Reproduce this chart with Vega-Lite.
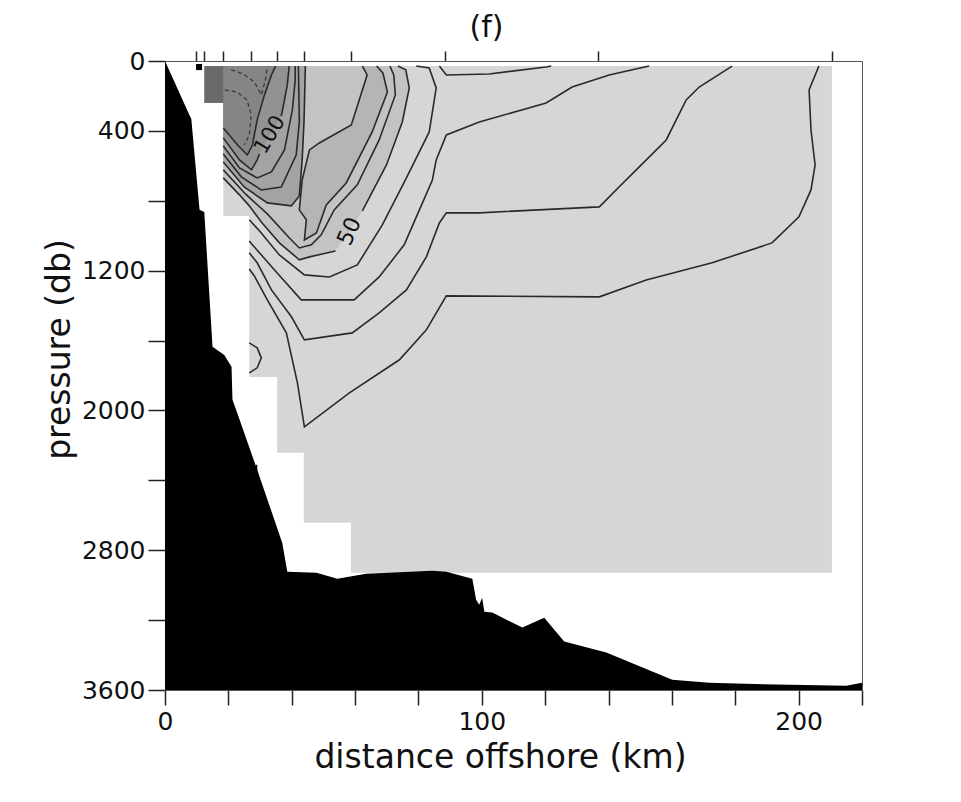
{
  "$schema": "https://vega.github.io/schema/vega-lite/v6.json",
  "autosize": {"type": "none"},
  "padding": {"left": 165, "top": 61, "right": 99, "bottom": 112},
  "width": 697,
  "height": 629,
  "background": "white",
  "config": {
    "view": {"stroke": "#555", "strokeWidth": 1},
    "axis": {"grid": false}
  },
  "title": {"text": "(f)", "fontSize": 30, "font": "DejaVu Sans", "fontWeight": "normal", "color": "#111", "dx": -27, "offset": 6, "anchor": "middle"},
  "datasets": {
    "sea": [
      {"km": 0, "p": 0}, {"km": 7.7, "p": 309}, {"km": 8.3, "p": 330}, {"km": 10.9, "p": 852}, {"km": 12.4, "p": 864},
      {"km": 15.0, "p": 1636}, {"km": 18.7, "p": 1682}, {"km": 21.0, "p": 1750}, {"km": 21.3, "p": 1939}, {"km": 22.8, "p": 2014},
      {"km": 29.1, "p": 2340}, {"km": 37.0, "p": 2757}, {"km": 38.6, "p": 2923}, {"km": 47.8, "p": 2929}, {"km": 54.4, "p": 2963},
      {"km": 63.5, "p": 2934}, {"km": 84.4, "p": 2917}, {"km": 88.8, "p": 2923}, {"km": 97.0, "p": 2963}, {"km": 98.2, "p": 3083},
      {"km": 99.2, "p": 3112}, {"km": 100.1, "p": 3072}, {"km": 100.8, "p": 3152}, {"km": 103.3, "p": 3157}, {"km": 112.8, "p": 3243},
      {"km": 119.7, "p": 3186}, {"km": 126.0, "p": 3323}, {"km": 139.3, "p": 3386}, {"km": 160.1, "p": 3541}, {"km": 171.8, "p": 3558},
      {"km": 192.9, "p": 3569}, {"km": 215.0, "p": 3575}, {"km": 220, "p": 3558}
    ],
    "grid": [
      {"km": 12.4, "p": 240}, {"km": 18.4, "p": 887}, {"km": 26.6, "p": 1808}, {"km": 35.4, "p": 2242},
      {"km": 43.8, "p": 2643}, {"km": 58.7, "p": 2929}, {"km": 210.5, "p": 2929}
    ],
    "shade": [
      {"s": "a", "lvl": 50, "km": 73.5, "p": 29}, {"s": "a", "lvl": 50, "km": 76.0, "p": 50}, {"s": "a", "lvl": 50, "km": 77.1, "p": 154},
      {"s": "a", "lvl": 50, "km": 74.9, "p": 349}, {"s": "a", "lvl": 50, "km": 69.9, "p": 595}, {"s": "a", "lvl": 50, "km": 62.3, "p": 858},
      {"s": "a", "lvl": 50, "km": 58.2, "p": 975}, {"s": "a", "lvl": 50, "km": 53.8, "p": 1087}, {"s": "a", "lvl": 50, "km": 45.6, "p": 1121},
      {"s": "a", "lvl": 50, "km": 42.4, "p": 1138}, {"s": "a", "lvl": 50, "km": 36.1, "p": 1041}, {"s": "a", "lvl": 50, "km": 30.4, "p": 921},
      {"s": "a", "lvl": 50, "km": 26.6, "p": 829}, {"s": "a", "lvl": 50, "km": 23.5, "p": 766}, {"s": "a", "lvl": 50, "km": 18.4, "p": 669},
      {"s": "a", "lvl": 50, "km": 18.4, "p": 29},
      {"s": "b", "lvl": 60, "km": 62.3, "p": 29}, {"s": "b", "lvl": 60, "km": 63.8, "p": 80}, {"s": "b", "lvl": 60, "km": 58.8, "p": 366},
      {"s": "b", "lvl": 60, "km": 48.7, "p": 469}, {"s": "b", "lvl": 60, "km": 45.6, "p": 509}, {"s": "b", "lvl": 60, "km": 43.3, "p": 681},
      {"s": "b", "lvl": 60, "km": 42.4, "p": 852}, {"s": "b", "lvl": 60, "km": 44.6, "p": 909}, {"s": "b", "lvl": 60, "km": 44.0, "p": 1024},
      {"s": "b", "lvl": 60, "km": 47.8, "p": 984}, {"s": "b", "lvl": 60, "km": 50.9, "p": 824}, {"s": "b", "lvl": 60, "km": 57.2, "p": 698},
      {"s": "b", "lvl": 60, "km": 65.4, "p": 406}, {"s": "b", "lvl": 60, "km": 70.2, "p": 177}, {"s": "b", "lvl": 60, "km": 68.8, "p": 70},
      {"s": "b", "lvl": 60, "km": 66.8, "p": 29},
      {"s": "c", "lvl": 80, "km": 18.4, "p": 29}, {"s": "c", "lvl": 80, "km": 44.3, "p": 29}, {"s": "c", "lvl": 80, "km": 43.9, "p": 337},
      {"s": "c", "lvl": 80, "km": 43.3, "p": 566}, {"s": "c", "lvl": 80, "km": 42.4, "p": 772}, {"s": "c", "lvl": 80, "km": 39.9, "p": 829},
      {"s": "c", "lvl": 80, "km": 32.3, "p": 812}, {"s": "c", "lvl": 80, "km": 25.0, "p": 721}, {"s": "c", "lvl": 80, "km": 18.4, "p": 578},
      {"s": "d", "lvl": 100, "km": 18.4, "p": 29}, {"s": "d", "lvl": 100, "km": 39.2, "p": 29}, {"s": "d", "lvl": 100, "km": 38.6, "p": 137},
      {"s": "d", "lvl": 100, "km": 37.4, "p": 252}, {"s": "d", "lvl": 100, "km": 36.7, "p": 315}, {"s": "d", "lvl": 100, "km": 33.2, "p": 423},
      {"s": "d", "lvl": 100, "km": 29.8, "p": 532}, {"s": "d", "lvl": 100, "km": 29.1, "p": 566}, {"s": "d", "lvl": 100, "km": 27.3, "p": 623},
      {"s": "d", "lvl": 100, "km": 23.5, "p": 566}, {"s": "d", "lvl": 100, "km": 18.4, "p": 440},
      {"s": "e", "lvl": 110, "km": 18.4, "p": 29}, {"s": "e", "lvl": 110, "km": 34.9, "p": 29}, {"s": "e", "lvl": 110, "km": 33.6, "p": 80},
      {"s": "e", "lvl": 110, "km": 31.4, "p": 194}, {"s": "e", "lvl": 110, "km": 29.1, "p": 337}, {"s": "e", "lvl": 110, "km": 27.6, "p": 481},
      {"s": "e", "lvl": 110, "km": 26.0, "p": 538}, {"s": "e", "lvl": 110, "km": 22.9, "p": 481}, {"s": "e", "lvl": 110, "km": 18.4, "p": 383},
      {"s": "f", "lvl": 130, "km": 12.4, "p": 29}, {"s": "f", "lvl": 130, "km": 18.4, "p": 29}, {"s": "f", "lvl": 130, "km": 18.4, "p": 240},
      {"s": "f", "lvl": 130, "km": 12.4, "p": 240}
    ],
    "iso": [
      {"c": "A1", "km": 206.4, "p": 29}, {"c": "A1", "km": 203.3, "p": 166}, {"c": "A1", "km": 203.9, "p": 395}, {"c": "A1", "km": 205.2, "p": 595},
      {"c": "A1", "km": 203.9, "p": 738}, {"c": "A1", "km": 200.1, "p": 892}, {"c": "A1", "km": 191.6, "p": 1041}, {"c": "A1", "km": 172.7, "p": 1155},
      {"c": "A1", "km": 151.9, "p": 1253}, {"c": "A1", "km": 137.1, "p": 1350}, {"c": "A1", "km": 88.8, "p": 1344}, {"c": "A1", "km": 82.5, "p": 1539},
      {"c": "A1", "km": 74.0, "p": 1710}, {"c": "A1", "km": 58.2, "p": 1899}, {"c": "A1", "km": 44.0, "p": 2094}, {"c": "A1", "km": 41.8, "p": 1842},
      {"c": "A1", "km": 38.3, "p": 1556}, {"c": "A1", "km": 32.3, "p": 1367}, {"c": "A1", "km": 28.2, "p": 1230}, {"c": "A1", "km": 26.6, "p": 1190},
      {"c": "A2", "km": 179.0, "p": 29}, {"c": "A2", "km": 168.6, "p": 149}, {"c": "A2", "km": 164.5, "p": 223}, {"c": "A2", "km": 158.2, "p": 452},
      {"c": "A2", "km": 149.7, "p": 606}, {"c": "A2", "km": 143.3, "p": 721}, {"c": "A2", "km": 137.1, "p": 835}, {"c": "A2", "km": 99.2, "p": 869},
      {"c": "A2", "km": 88.8, "p": 869}, {"c": "A2", "km": 86.6, "p": 927}, {"c": "A2", "km": 82.5, "p": 1121}, {"c": "A2", "km": 76.2, "p": 1310},
      {"c": "A2", "km": 67.6, "p": 1441}, {"c": "A2", "km": 59.1, "p": 1556}, {"c": "A2", "km": 44.0, "p": 1596}, {"c": "A2", "km": 39.9, "p": 1464},
      {"c": "A2", "km": 33.6, "p": 1310}, {"c": "A2", "km": 29.1, "p": 1155}, {"c": "A2", "km": 26.6, "p": 1098},
      {"c": "A3", "km": 152.8, "p": 29}, {"c": "A3", "km": 140.2, "p": 80}, {"c": "A3", "km": 128.5, "p": 149}, {"c": "A3", "km": 120.3, "p": 240},
      {"c": "A3", "km": 99.2, "p": 349}, {"c": "A3", "km": 88.8, "p": 423}, {"c": "A3", "km": 85.6, "p": 566}, {"c": "A3", "km": 84.4, "p": 681},
      {"c": "A3", "km": 80.3, "p": 852}, {"c": "A3", "km": 75.5, "p": 1052}, {"c": "A3", "km": 67.6, "p": 1236}, {"c": "A3", "km": 59.7, "p": 1367},
      {"c": "A3", "km": 43.0, "p": 1367}, {"c": "A3", "km": 34.5, "p": 1195}, {"c": "A3", "km": 28.2, "p": 1064}, {"c": "A3", "km": 26.6, "p": 1030},
      {"c": "A3b", "km": 86.6, "p": 29}, {"c": "A3b", "km": 88.8, "p": 80}, {"c": "A3b", "km": 102.3, "p": 74}, {"c": "A3b", "km": 120.3, "p": 34}, {"c": "A3b", "km": 121.9, "p": 29},
      {"c": "A4", "km": 79.3, "p": 29}, {"c": "A4", "km": 83.4, "p": 40}, {"c": "A4", "km": 85.6, "p": 154}, {"c": "A4", "km": 83.4, "p": 406},
      {"c": "A4", "km": 76.2, "p": 669}, {"c": "A4", "km": 68.6, "p": 938}, {"c": "A4", "km": 60.7, "p": 1167}, {"c": "A4", "km": 51.9, "p": 1236},
      {"c": "A4", "km": 44.0, "p": 1224}, {"c": "A4", "km": 36.1, "p": 1110}, {"c": "A4", "km": 29.8, "p": 972}, {"c": "A4", "km": 26.6, "p": 909},
      {"c": "A5a", "km": 73.5, "p": 29}, {"c": "A5a", "km": 76.0, "p": 50}, {"c": "A5a", "km": 77.1, "p": 154}, {"c": "A5a", "km": 74.9, "p": 349},
      {"c": "A5a", "km": 69.9, "p": 595}, {"c": "A5a", "km": 62.3, "p": 858},
      {"c": "A5b", "km": 53.8, "p": 1087}, {"c": "A5b", "km": 45.6, "p": 1121}, {"c": "A5b", "km": 42.4, "p": 1138}, {"c": "A5b", "km": 36.1, "p": 1041},
      {"c": "A5b", "km": 30.4, "p": 921}, {"c": "A5b", "km": 26.6, "p": 829}, {"c": "A5b", "km": 23.5, "p": 766}, {"c": "A5b", "km": 18.4, "p": 669},
      {"c": "A6", "km": 62.3, "p": 29}, {"c": "A6", "km": 63.8, "p": 80}, {"c": "A6", "km": 58.8, "p": 366}, {"c": "A6", "km": 48.7, "p": 469},
      {"c": "A6", "km": 45.6, "p": 509}, {"c": "A6", "km": 43.3, "p": 681}, {"c": "A6", "km": 42.4, "p": 852}, {"c": "A6", "km": 44.6, "p": 909},
      {"c": "A6", "km": 44.0, "p": 1024}, {"c": "A6", "km": 47.8, "p": 984}, {"c": "A6", "km": 50.9, "p": 824}, {"c": "A6", "km": 57.2, "p": 698},
      {"c": "A6", "km": 65.4, "p": 406}, {"c": "A6", "km": 70.2, "p": 177}, {"c": "A6", "km": 68.8, "p": 70}, {"c": "A6", "km": 66.8, "p": 29},
      {"c": "U1", "km": 18.4, "p": 383}, {"c": "U1", "km": 22.9, "p": 481}, {"c": "U1", "km": 26.0, "p": 538}, {"c": "U1", "km": 27.6, "p": 481},
      {"c": "U1", "km": 29.1, "p": 337}, {"c": "U1", "km": 31.4, "p": 194}, {"c": "U1", "km": 33.6, "p": 80}, {"c": "U1", "km": 34.9, "p": 29},
      {"c": "U2a", "km": 18.4, "p": 440}, {"c": "U2a", "km": 23.5, "p": 566}, {"c": "U2a", "km": 27.3, "p": 623}, {"c": "U2a", "km": 29.1, "p": 566}, {"c": "U2a", "km": 29.8, "p": 532},
      {"c": "U2b", "km": 36.7, "p": 315}, {"c": "U2b", "km": 37.4, "p": 252}, {"c": "U2b", "km": 38.6, "p": 137}, {"c": "U2b", "km": 39.2, "p": 29},
      {"c": "U3", "km": 18.4, "p": 486}, {"c": "U3", "km": 23.5, "p": 612}, {"c": "U3", "km": 29.1, "p": 669}, {"c": "U3", "km": 33.6, "p": 635},
      {"c": "U3", "km": 37.7, "p": 509}, {"c": "U3", "km": 40.2, "p": 280}, {"c": "U3", "km": 41.1, "p": 109}, {"c": "U3", "km": 41.1, "p": 29},
      {"c": "U4", "km": 18.4, "p": 532}, {"c": "U4", "km": 24.1, "p": 663}, {"c": "U4", "km": 30.4, "p": 738}, {"c": "U4", "km": 36.7, "p": 721},
      {"c": "U4", "km": 41.4, "p": 538}, {"c": "U4", "km": 42.4, "p": 349}, {"c": "U4", "km": 42.1, "p": 29},
      {"c": "U5", "km": 18.4, "p": 578}, {"c": "U5", "km": 25.0, "p": 721}, {"c": "U5", "km": 32.3, "p": 812}, {"c": "U5", "km": 39.9, "p": 829},
      {"c": "U5", "km": 42.4, "p": 772}, {"c": "U5", "km": 43.3, "p": 566}, {"c": "U5", "km": 43.9, "p": 337}, {"c": "U5", "km": 44.3, "p": 29},
      {"c": "U6", "km": 18.4, "p": 623}, {"c": "U6", "km": 25.4, "p": 761}, {"c": "U6", "km": 32.3, "p": 875}, {"c": "U6", "km": 39.2, "p": 1012},
      {"c": "U6", "km": 42.4, "p": 1070}, {"c": "U6", "km": 46.2, "p": 1052}, {"c": "U6", "km": 49.3, "p": 995}, {"c": "U6", "km": 53.4, "p": 852},
      {"c": "U6", "km": 60.7, "p": 709}, {"c": "U6", "km": 67.6, "p": 452}, {"c": "U6", "km": 72.7, "p": 194}, {"c": "U6", "km": 72.2, "p": 80}, {"c": "U6", "km": 71.0, "p": 29},
      {"c": "L", "km": 26.6, "p": 1613}, {"c": "L", "km": 29.1, "p": 1642}, {"c": "L", "km": 30.4, "p": 1699}, {"c": "L", "km": 29.1, "p": 1756}, {"c": "L", "km": 26.6, "p": 1785}
    ],
    "dash": [
      {"c": "D1", "km": 18.9, "p": 166}, {"c": "D1", "km": 22.7, "p": 177}, {"c": "D1", "km": 25.9, "p": 223}, {"c": "D1", "km": 27.2, "p": 309},
      {"c": "D1", "km": 26.6, "p": 423}, {"c": "D1", "km": 25.0, "p": 481},
      {"c": "D2", "km": 20.9, "p": 51}, {"c": "D2", "km": 24.7, "p": 74}, {"c": "D2", "km": 28.2, "p": 120}, {"c": "D2", "km": 30.4, "p": 194},
      {"c": "D2", "km": 31.7, "p": 109}, {"c": "D2", "km": 32.3, "p": 29}
    ]
  },
  "layer": [
    {
      "data": {"name": "grid"},
      "mark": {"type": "area", "interpolate": "step-after", "color": "#d6d6d6"},
      "encoding": {
        "x": {"field": "km", "type": "quantitative", "scale": {"domain": [0, 220], "nice": false, "zero": false},
          "axis": {"orient": "bottom", "values": [0, 20, 40, 60, 80, 100, 120, 140, 160, 180, 200, 220],
            "labelExpr": "datum.value % 100 === 0 ? datum.label : ''", "labelOverlap": false, "labelFlush": false,
            "tickSize": 15, "tickWidth": 1.5, "tickColor": "#222", "domainColor": "#555", "domainWidth": 1,
            "labelFont": "DejaVu Sans", "labelFontSize": 25, "labelColor": "#111", "labelPadding": 4,
            "title": "distance offshore (km)", "titleFont": "DejaVu Sans", "titleFontSize": 33, "titleFontWeight": "normal",
            "titleColor": "#111", "titlePadding": 7, "titleX": 335}},
        "y": {"field": "p", "type": "quantitative", "scale": {"domain": [0, 3600], "reverse": true, "nice": false, "zero": false},
          "axis": {"values": [0, 400, 800, 1200, 1600, 2000, 2400, 2800, 3200, 3600], "format": "d",
            "labelExpr": "indexof([0, 400, 1200, 2000, 2800, 3600], datum.value) >= 0 ? datum.label : ''", "labelOverlap": false,
            "tickSize": 17, "tickWidth": 1.5, "tickColor": "#222", "domainColor": "#555",
            "labelFont": "DejaVu Sans", "labelFontSize": 25, "labelColor": "#111", "labelPadding": 3,
            "title": "pressure (db)", "titleFont": "DejaVu Sans", "titleFontSize": 33, "titleFontWeight": "normal",
            "titleColor": "#111", "titlePadding": 5, "titleY": 288}},
        "y2": {"datum": 28}
      }
    },
    {
      "data": {"name": "shade"},
      "mark": {"type": "line", "strokeOpacity": 0, "strokeWidth": 0},
      "encoding": {
        "x": {"field": "km", "type": "quantitative", "axis": null},
        "y": {"field": "p", "type": "quantitative"},
        "detail": {"field": "s"},
        "order": {"value": null},
        "fill": {"field": "lvl", "type": "ordinal", "legend": null,
          "scale": {"domain": [50, 60, 80, 100, 110, 130], "range": ["#c3c3c3", "#b5b5b5", "#a3a3a3", "#929292", "#858585", "#6a6a6a"]}}
      }
    },
    {
      "data": {"name": "iso"},
      "mark": {"type": "line", "color": "#2a2a2a", "strokeWidth": 1.6},
      "encoding": {
        "x": {"field": "km", "type": "quantitative", "axis": null},
        "y": {"field": "p", "type": "quantitative"},
        "detail": {"field": "c"},
        "order": {"value": null}
      }
    },
    {
      "data": {"name": "dash"},
      "mark": {"type": "line", "color": "#3a3a3a", "strokeWidth": 1.3, "strokeDash": [4, 3]},
      "encoding": {
        "x": {"field": "km", "type": "quantitative", "axis": null},
        "y": {"field": "p", "type": "quantitative"},
        "detail": {"field": "c"},
        "order": {"value": null}
      }
    },
    {
      "data": {"name": "sea"},
      "mark": {"type": "area", "color": "black"},
      "encoding": {
        "x": {"field": "km", "type": "quantitative", "axis": null},
        "y": {"field": "p", "type": "quantitative"},
        "y2": {"datum": 3600},
        "order": {"value": null}
      }
    },
    {
      "data": {"values": [{"km": 28.9, "p": 2311, "p2": 2454}]},
      "mark": {"type": "rule", "color": "black", "strokeWidth": 1.5},
      "encoding": {
        "x": {"field": "km", "type": "quantitative", "axis": null},
        "y": {"field": "p", "type": "quantitative"},
        "y2": {"field": "p2"}
      }
    },
    {
      "data": {"values": [{"k1": 9.8, "k2": 11.7, "p": 17, "p2": 52}]},
      "mark": {"type": "rect", "color": "black"},
      "encoding": {
        "x": {"field": "k1", "type": "quantitative",
          "axis": {"orient": "top", "values": [9.8, 12.4, 18.4, 27.2, 35.4, 43.8, 58.7, 88.4, 136.7, 210.5],
            "labels": false, "tickSize": 10, "tickWidth": 1.5, "tickColor": "#222", "domainColor": "#555", "title": null}},
        "x2": {"field": "k2"},
        "y": {"field": "p", "type": "quantitative"},
        "y2": {"field": "p2"}
      }
    },
    {
      "data": {"values": [{"km": 33.2, "p": 423, "t": "100"}]},
      "mark": {"type": "text", "angle": -59, "font": "DejaVu Sans", "fontSize": 21, "color": "#111"},
      "encoding": {
        "x": {"field": "km", "type": "quantitative", "axis": null},
        "y": {"field": "p", "type": "quantitative"},
        "text": {"field": "t"}
      }
    },
    {
      "data": {"values": [{"km": 58.2, "p": 975, "t": "50"}]},
      "mark": {"type": "text", "angle": -66, "font": "DejaVu Sans", "fontSize": 22, "color": "#111"},
      "encoding": {
        "x": {"field": "km", "type": "quantitative", "axis": null},
        "y": {"field": "p", "type": "quantitative"},
        "text": {"field": "t"}
      }
    }
  ]
}
